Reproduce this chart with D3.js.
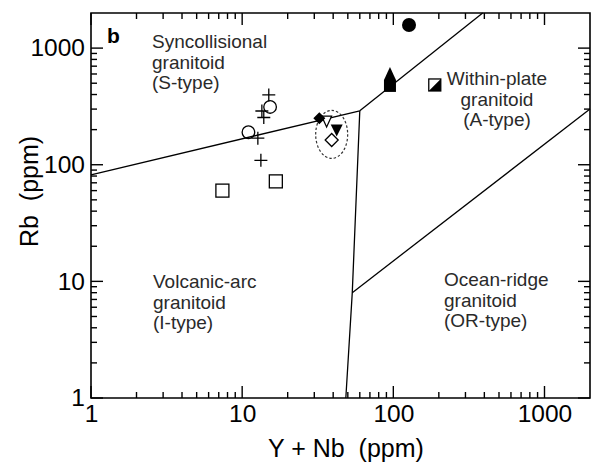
<!DOCTYPE html>
<html>
<head>
<meta charset="utf-8">
<script src="https://cdn.jsdelivr.net/npm/d3@7"></script>
<style>
	body { margin: 0; background: #fff; }
	svg { display: block; }
	text { font-family: "Liberation Sans", Arial, sans-serif; }
</style>
</head>
<body>
<div id="chart"></div>
<script>

// axis ticks
var xMajor = [1, 10, 100, 1000];
var yMajor = [1, 10, 100, 1000];
var xMinor = [2, 3, 4, 5, 6, 7, 8, 9, 20, 30, 40, 50, 60, 70, 80, 90, 200, 300, 400, 500, 600, 700, 800, 900];
var yMinor = [2, 3, 4, 5, 6, 7, 8, 9, 20, 30, 40, 50, 60, 70, 80, 90, 200, 300, 400, 500, 600, 700, 800, 900];

// field boundaries, [Y+Nb, Rb]
var lineVagSyn = [[1, 82], [60, 290]];
var lineSynWpg = [[60, 290], [390, 2000]];
var lineVagWpg = [[60, 290], [53.5, 8], [48.5, 1]];
var lineOrgWpg = [[53.5, 8], [2000, 300]];

// samples, [Y+Nb, Rb]
var crosses = [[15.0, 397], [13.5, 289], [13.9, 254], [12.7, 169], [13.3, 109]];
var openCircles = [[15.3, 313], [11.0, 190]];
var openSquares = [[16.7, 72], [7.4, 60]];
var filledDiamonds = [[32.4, 250]];
var openTriDown = [[36.2, 237]];
var filledTriDown = [[42.2, 199]];
var openDiamonds = [[39.1, 163]];
var filledCircles = [[127, 1580]];
var filledTriUp = [[95, 600]];
var filledSquares = [[95, 474]];
var halfSquares = [[188, 483]];
var ellipseCentre = [39.1, 182];

// field names
var synLabel = ['Syncollisional', 'granitoid', '(S-type)'];
var wpgLabel = ['Within-plate', 'granitoid', '(A-type)'];
var vagLabel = ['Volcanic-arc', 'granitoid', '(I-type)'];
var orgLabel = ['Ocean-ridge', 'granitoid', '(OR-type)'];

var chart = {
	width: 593,
	height: 465,
	left: 91,
	right: 590,
	top: 13,
	bottom: 398,

	init: function() {
		var svg = d3.select('#chart').append('svg')
			.attr('width', this.width)
			.attr('height', this.height);

		this.x = d3.scaleLog().domain([1, 2000]).range([this.left, this.right]);
		this.y = d3.scaleLog().domain([1, 2000]).range([this.bottom, this.top]);

		this.axes(svg);
		this.boundaries(svg);
		this.labels(svg);
		this.points(svg);
		this.draw_ticks(svg);
	},

	// inward tick marks on all four sides, drawn last so nothing covers them
	draw_ticks: function(svg) {
		var x = this.x, y = this.y, c = this;
		var segs = [];
		var add = function(list, len) {
			list.forEach(function(v) {
				var px = x(v), py = y(v);
				segs.push([[px, c.bottom], [px, c.bottom - len]]);
				segs.push([[px, c.top], [px, c.top + len]]);
				segs.push([[c.left, py], [c.left + len, py]]);
				segs.push([[c.right, py], [c.right - len, py]]);
			});
		};
		add(xMajor, 12);
		add(xMinor, 6);

		var line = d3.line();
		var g = svg.append('g').attr('class', 'tickmarks');
		segs.forEach(function(s) {
			g.append('path')
				.attr('d', line(s))
				.attr('fill', 'none')
				.attr('stroke', '#000')
				.attr('stroke-width', 1.4);
		});
	},

	axes: function(svg) {
		var x = this.x, y = this.y;

		svg.append('path')
			.attr('class', 'frame')
			.attr('d', 'M' + this.left + ',' + this.top + 'H' + this.right + 'V' + this.bottom + 'H' + this.left + 'Z')
			.attr('fill', 'none')
			.attr('stroke', '#000')
			.attr('stroke-width', 1.6);

		var gx = svg.append('g')
			.attr('transform', 'translate(0,' + this.bottom + ')')
			.call(d3.axisBottom(x).tickValues(xMajor).tickSize(0).tickPadding(7).tickFormat(d3.format('d')));
		var gy = svg.append('g')
			.attr('transform', 'translate(' + this.left + ',0)')
			.call(d3.axisLeft(y).tickValues(yMajor).tickSize(0).tickPadding(6).tickFormat(d3.format('d')));

		[gx, gy].forEach(function(g) {
			g.selectAll('.domain').remove();
			g.selectAll('.tick line').remove();
			g.selectAll('.tick text')
				.attr('fill', '#000')
				.style('font-size', '24.5px')
				.style('font-family', '"Liberation Sans", Arial, sans-serif');
		});

		svg.append('text')
			.attr('x', 268)
			.attr('y', 457)
			.style('font-size', '25px')
			.attr('xml:space', 'preserve')
			.text('Y + Nb  (ppm)');

		svg.append('text')
			.attr('transform', 'translate(38,247) rotate(-90)')
			.style('font-size', '25px')
			.attr('xml:space', 'preserve')
			.text('Rb  (ppm)');

		svg.append('text')
			.attr('x', 107)
			.attr('y', 43)
			.style('font-size', '21px')
			.style('font-weight', 'bold')
			.text('b');
	},

	boundaries: function(svg) {
		var x = this.x, y = this.y;
		var line = d3.line()
			.x(function(d) { return x(d[0]); })
			.y(function(d) { return y(d[1]); });

		[lineVagSyn, lineSynWpg, lineVagWpg, lineOrgWpg].forEach(function(pts) {
			svg.append('path')
				.attr('d', line(pts))
				.attr('fill', 'none')
				.attr('stroke', '#000')
				.attr('stroke-width', 1.3);
		});
	},

	field_label: function(svg, lines, px, py, anchor) {
		var t = svg.append('text')
			.attr('x', px)
			.attr('y', py)
			.attr('text-anchor', anchor)
			.attr('fill', '#2a2a2a')
			.style('font-size', '19px');
		lines.forEach(function(s, i) {
			t.append('tspan')
				.attr('x', px)
				.attr('dy', i == 0 ? 0 : 20.5)
				.text(s);
		});
	},

	labels: function(svg) {
		this.field_label(svg, synLabel, 152, 48, 'start');
		this.field_label(svg, wpgLabel, 497, 85, 'middle');
		this.field_label(svg, vagLabel, 153, 288, 'start');
		this.field_label(svg, orgLabel, 444, 286, 'start');
	},

	points: function(svg) {
		var x = this.x, y = this.y;
		var g = svg.append('g');
		var tr = function(d) { return 'translate(' + x(d[0]) + ',' + y(d[1]) + ')'; };

		// dashed ellipse round the enclave group
		g.append('ellipse')
			.attr('cx', x(ellipseCentre[0]))
			.attr('cy', y(ellipseCentre[1]))
			.attr('rx', 16)
			.attr('ry', 24)
			.attr('fill', 'none')
			.attr('stroke', '#333')
			.attr('stroke-width', 1.2)
			.attr('stroke-dasharray', '2.5,2');

		g.selectAll('.cross').data(crosses)
			.enter().append('path')
				.attr('class', 'cross')
				.attr('transform', tr)
				.attr('d', 'M-6.5,0H6.5M0,-6.5V6.5')
				.attr('stroke', '#000')
				.attr('stroke-width', 1.3);

		g.selectAll('.ocircle').data(openCircles)
			.enter().append('circle')
				.attr('class', 'ocircle')
				.attr('transform', tr)
				.attr('r', 6.3)
				.attr('fill', 'none')
				.attr('stroke', '#000')
				.attr('stroke-width', 1.3);

		g.selectAll('.osquare').data(openSquares)
			.enter().append('rect')
				.attr('class', 'osquare')
				.attr('transform', tr)
				.attr('x', -6.5).attr('y', -6.5)
				.attr('width', 13).attr('height', 13)
				.attr('fill', '#fff')
				.attr('stroke', '#000')
				.attr('stroke-width', 1.3);

		g.selectAll('.otri').data(openTriDown)
			.enter().append('path')
				.attr('class', 'otri')
				.attr('transform', tr)
				.attr('d', 'M-5,-5H5L0,6Z')
				.attr('fill', '#fff')
				.attr('stroke', '#000')
				.attr('stroke-width', 1.2);

		g.selectAll('.fdiamond').data(filledDiamonds)
			.enter().append('path')
				.attr('class', 'fdiamond')
				.attr('transform', tr)
				.attr('d', 'M0,-6L6,0L0,6L-6,0Z')
				.attr('fill', '#000');

		g.selectAll('.ftridown').data(filledTriDown)
			.enter().append('path')
				.attr('class', 'ftridown')
				.attr('transform', tr)
				.attr('d', 'M-6,-5.5H6L0,6.5Z')
				.attr('fill', '#000');

		g.selectAll('.odiamond').data(openDiamonds)
			.enter().append('path')
				.attr('class', 'odiamond')
				.attr('transform', tr)
				.attr('d', 'M0,-6.5L6.5,0L0,6.5L-6.5,0Z')
				.attr('fill', '#fff')
				.attr('stroke', '#000')
				.attr('stroke-width', 1.3);

		g.selectAll('.fcircle').data(filledCircles)
			.enter().append('circle')
				.attr('class', 'fcircle')
				.attr('transform', tr)
				.attr('r', 7)
				.attr('fill', '#000');

		g.selectAll('.fsquare').data(filledSquares)
			.enter().append('rect')
				.attr('class', 'fsquare')
				.attr('transform', tr)
				.attr('x', -6).attr('y', -6)
				.attr('width', 12).attr('height', 12)
				.attr('fill', '#000');

		g.selectAll('.ftriup').data(filledTriUp)
			.enter().append('path')
				.attr('class', 'ftriup')
				.attr('transform', tr)
				.attr('d', 'M-6,6H6L0,-7Z')
				.attr('fill', '#000');

		var half = g.selectAll('.hsquare').data(halfSquares)
			.enter().append('g')
				.attr('class', 'hsquare')
				.attr('transform', tr);
		half.append('rect')
			.attr('x', -6).attr('y', -6)
			.attr('width', 12).attr('height', 12)
			.attr('fill', '#fff')
			.attr('stroke', '#000')
			.attr('stroke-width', 1.3);
		half.append('path')
			.attr('d', 'M6,-6V6H-6Z')
			.attr('fill', '#000');
	}
};

window.onload = function() {
	chart.init();
};
</script>
</body>
</html>
